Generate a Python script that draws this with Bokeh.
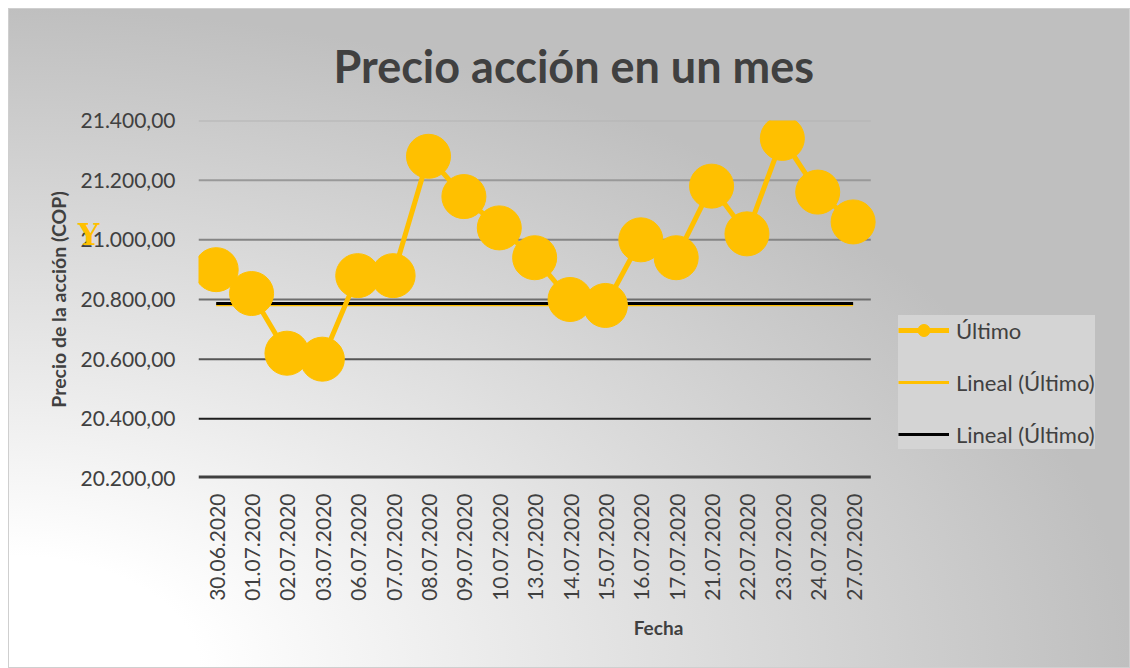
from bokeh.plotting import figure
from bokeh.models import (FactorRange, Range1d, FixedTicker, LinearAxis,
                          ColumnDataSource, Legend, LegendItem)
from bokeh.embed import file_html
from bokeh.resources import INLINE
import math

# ---- data ----
dates = ["30.06.2020", "01.07.2020", "02.07.2020", "03.07.2020", "06.07.2020",
         "07.07.2020", "08.07.2020", "09.07.2020", "10.07.2020", "13.07.2020",
         "14.07.2020", "15.07.2020", "16.07.2020", "17.07.2020", "21.07.2020",
         "22.07.2020", "23.07.2020", "24.07.2020", "27.07.2020"]
ultimo = [20900, 20820, 20620, 20600, 20880, 20880, 21280, 21145, 21040, 20940,
          20800, 20780, 21000, 20940, 21180, 21020, 21340, 21160, 21060]
trend_dates = [dates[0], dates[-1]]
trend_yellow = [20782, 20782]
trend_black = [20787, 20787]
y_ticks = [20200, 20400, 20600, 20800, 21000, 21200, 21400]
y_tick_labels = ["20.200,00", "20.400,00", "20.600,00", "20.800,00",
                 "21.000,00", "21.200,00", "21.400,00"]
grid_colors = ["#404040", "#1e1e1e", "#555555", "#6e6e6e", "#858585", "#999999", "#b3b3b3"]
grid_widths = [6, 2, 2, 2, 2, 2, 2]
legend_labels = ["Último", "Lineal (Último)", "Lineal (Último)"]
# stray yellow axis glyph seen in the reference
glyph_y_tick, glyph_y_text = 21018, "Y"

TITLE = "Precio acción en un mes"
FONT = "Lato"
TXT = "#404040"
GOLD = "#ffc000"

# blank categories on the right give room for the legend inside the frame
pads = [" " * (i + 1) for i in range(7)]

p = figure(width=1122, height=660, x_range=FactorRange(*(dates + pads)),
           y_range=Range1d(20200, 21400), output_backend="svg",
           toolbar_location=None, min_border_left=190, min_border_right=12,
           min_border_top=112, min_border_bottom=190)
p.background_fill_alpha = 0
p.border_fill_alpha = 0
p.outline_line_color = None
p.styles = {"background": "radial-gradient(100% 100% at 0% 100%, #ffffff 17%, #bfbfbf 100%)",
            "outline": "1px solid #cfcfcf", "outline-offset": "-1px",
            "margin-left": "8px", "margin-top": "8px"}
p.xgrid.grid_line_color = None
p.ygrid.grid_line_color = None

# title
p.title.text = TITLE
p.title.text_font = FONT
p.title.text_font_style = "bold"
p.title.text_font_size = "45px"
p.title.text_color = TXT
p.title.align = "left"
p.title.offset = 135
p.title.standoff = 55

# gridlines spanning only the date categories
grid_src = ColumnDataSource(dict(x0=[0] * len(y_ticks), x1=[len(dates)] * len(y_ticks),
                                 y=y_ticks, color=grid_colors, width=grid_widths))
p.segment(x0="x0", y0="y", x1="x1", y1="y", line_color="color", line_width="width",
          source=grid_src)

# axes
p.yaxis.ticker = FixedTicker(ticks=y_ticks)
p.yaxis.major_label_overrides = {t: l for t, l in zip(y_ticks, y_tick_labels)}
p.yaxis.axis_line_color = None
p.yaxis.major_tick_line_color = None
p.yaxis.minor_tick_line_color = None
p.yaxis.major_label_standoff = 17
p.yaxis.major_label_text_font = FONT
p.yaxis.major_label_text_font_size = "21px"
p.yaxis.major_label_text_color = TXT
p.yaxis.axis_label = "Precio de la acción (COP)"
p.yaxis.axis_label_text_font = FONT
p.yaxis.axis_label_text_font_style = "bold"
p.yaxis.axis_label_text_font_size = "19.5px"
p.yaxis.axis_label_text_color = TXT
p.yaxis.axis_label_standoff = 8

p.xaxis.axis_line_color = None
p.xaxis.major_tick_line_color = None
p.xaxis.minor_tick_line_color = None
p.xaxis.major_label_orientation = math.pi / 2
p.xaxis.major_label_standoff = 9
p.xaxis.major_label_text_font = FONT
p.xaxis.major_label_text_font_size = "21px"
p.xaxis.major_label_text_color = TXT
p.xaxis.axis_label = "Fecha"
p.xaxis.axis_label_text_font = FONT
p.xaxis.axis_label_text_font_style = "bold"
p.xaxis.axis_label_text_font_size = "19px"
p.xaxis.axis_label_text_color = TXT
p.xaxis.axis_label_standoff = 12

ay = LinearAxis(ticker=FixedTicker(ticks=[glyph_y_tick]),
                major_label_overrides={glyph_y_tick: glyph_y_text})
ay.axis_line_color = None
ay.major_tick_line_color = None
ay.minor_tick_line_color = None
ay.major_label_standoff = -62
ay.major_label_text_font = "DejaVu Serif"
ay.major_label_text_font_style = "bold"
ay.major_label_text_font_size = "30px"
ay.major_label_text_color = GOLD
p.add_layout(ay, "left")

# series
r_ty = p.line(trend_dates, trend_yellow, line_color=GOLD, line_width=3)
r_tb = p.line(trend_dates, trend_black, line_color="#000000", line_width=3)
r_line = p.line(dates, ultimo, line_color=GOLD, line_width=5)
r_pts = p.scatter(dates, ultimo, size=44, fill_color=GOLD, line_color=GOLD)

legend = Legend(items=[LegendItem(label=legend_labels[0], renderers=[r_line, r_pts]),
                       LegendItem(label=legend_labels[1], renderers=[r_ty]),
                       LegendItem(label=legend_labels[2], renderers=[r_tb])],
                location=(700, 29))
legend.background_fill_color = "#d4d4d4"
legend.background_fill_alpha = 1
legend.border_line_color = None
legend.label_text_font = FONT
legend.label_text_font_size = "22px"
legend.label_text_color = TXT
legend.glyph_width = 51
legend.glyph_height = 30
legend.label_height = 30
legend.label_standoff = 7
legend.spacing = 22
legend.padding = 11
legend.margin = 0
p.add_layout(legend)

open("out.html", "w").write(file_html(p, INLINE))
